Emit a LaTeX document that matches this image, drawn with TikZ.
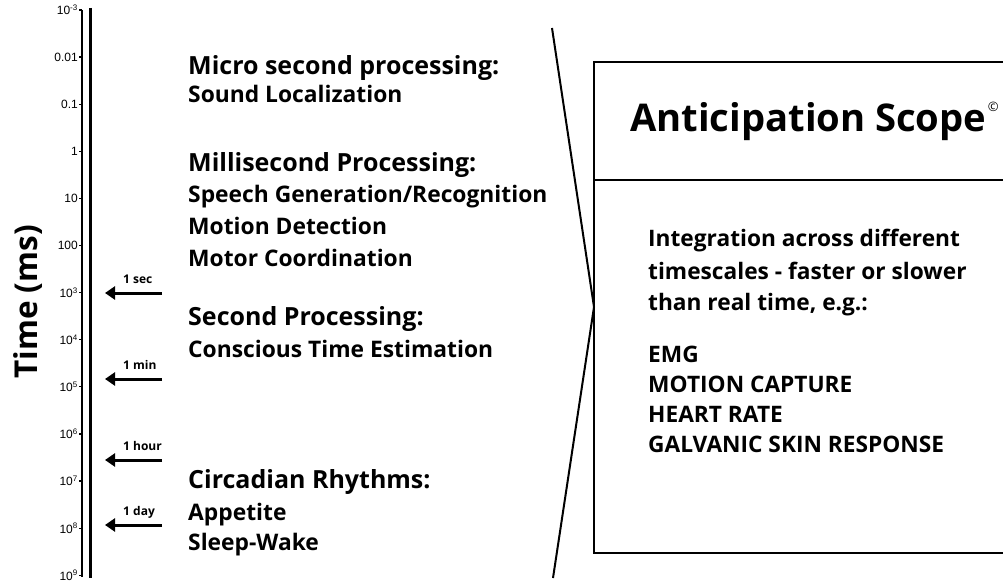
\documentclass[tikz,border=0pt]{standalone}
\usepackage{fontspec}
\setmainfont{Open Sans}
\newfontfamily\tickfont{Liberation Sans}
\usetikzlibrary{arrows.meta}

\tikzset{
  headtext/.style={anchor=base west, inner sep=0pt, font=\bfseries\fontsize{25}{30}\selectfont},
  itemtext/.style={anchor=base west, inner sep=0pt, font=\bfseries\fontsize{22.8}{27}\selectfont},
  scopetext/.style={anchor=base west, inner sep=0pt, font=\bfseries\fontsize{22.7}{27}\selectfont},
  ticklabel/.style={anchor=east, inner sep=0pt, font=\tickfont\fontsize{12}{14}\selectfont},
  unitlabel/.style={anchor=base west, inner sep=0pt, font=\bfseries\fontsize{12}{14}\selectfont},
  unitarrow/.style={line width=3pt, -{Triangle[length=10pt,width=13pt]}},
  boxline/.style={line width=2.4pt},
}

\begin{document}
\begin{tikzpicture}[x=1pt,y=-1pt]
				\useasboundingbox (0,0) rectangle (1003,585);
				% Time axis
				\coordinate (thinTop) at (82,10) ;
				\coordinate (thinBot) at (82,577) ;
				\coordinate (thickTop) at (90,8) ;
				\coordinate (thickBot) at (90,578) ;
				\draw[line width=1.5pt] (thinTop) -- (thinBot) ;
				\draw[line width=3pt] (thickTop) -- (thickBot) ;
				\foreach \lab [count=\i from 0] in {10\textsuperscript{-3},0.01,0.1,1,10,100,10\textsuperscript{3},10\textsuperscript{4},10\textsuperscript{5},10\textsuperscript{6},10\textsuperscript{7},10\textsuperscript{8},10\textsuperscript{9}}
				{
					\coordinate (tick\i) at (79,10+47.1*\i) ;
					\draw[line width=1.2pt] (tick\i) -- ++ (3,0) ;
					\node[ticklabel] (ticklab\i) at (78,10+47.1*\i) {\lab} ;
				}
				\node[rotate=90, inner sep=0pt, font=\bfseries\fontsize{31.5}{36}\selectfont] (axistitle) at (28,302) {Time (ms)} ;
				% Unit arrows
				\foreach \name/\lab/\yy in {sec/1 sec/293, min/1 min/379, hour/1 hour/460, day/1 day/525}
				{
					\coordinate (\name Tail) at (162,\yy) ;
					\coordinate (\name Tip) at (105,\yy) ;
					\draw[unitarrow] (\name Tail) -- (\name Tip) ;
					\node[unitlabel] (\name Label) at (123,\yy-10) {\lab} ;
				}
				% Processing scales
				\node[headtext] (micro) at (188,75) {Micro second processing:} ;
				\node[itemtext] (sound) at (188,103) {Sound Localization} ;
				\node[headtext] (milli) at (188,172) {Millisecond Processing:} ;
				\node[itemtext] (speech) at (188,203) {Speech Generation/Recognition} ;
				\node[itemtext] (motion) at (188,235) {Motion Detection} ;
				\node[itemtext] (motor) at (188,266) {Motor Coordination} ;
				\node[headtext] (second) at (188,325) {Second Processing:} ;
				\node[itemtext] (conscious) at (188,357) {Conscious Time Estimation} ;
				\node[headtext] (circadian) at (188,488) {Circadian Rhythms:} ;
				\node[itemtext] (appetite) at (188,520) {Appetite} ;
				\node[itemtext] (sleep) at (188,550) {Sleep-Wake} ;
				% Bracket
				\coordinate (brTop) at (552,28) ;
				\coordinate (brApex) at (594,307) ;
				\coordinate (brBot) at (553,578) ;
				\draw[line width=2pt] (brTop) -- (brApex) -- (brBot) ;
				% Anticipation box
				\coordinate (boxNE) at (1003,62) ;
				\coordinate (boxNW) at (594,62) ;
				\coordinate (boxSW) at (594,553) ;
				\coordinate (boxSE) at (1003,553) ;
				\coordinate (divW) at (594,180) ;
				\coordinate (divE) at (1003,180) ;
				\draw[boxline] (boxNE) -- (boxNW) -- (boxSW) -- (boxSE) ;
				\draw[boxline] (divW) -- (divE) ;
				\node[anchor=base west, inner sep=0pt, font=\bfseries\fontsize{38.2}{44}\selectfont] (title) at (630,132) {Anticipation Scope} ;
				\node[anchor=base west, inner sep=0pt, font=\fontsize{13}{13}\selectfont] (copymark) at ([xshift=1pt]title.base east) {\raisebox{20pt}{\textcopyright}} ;
				\node[scopetext] (integ) at (648,247) {Integration across different} ;
				\node[scopetext] (scales) at (648,279) {timescales - faster or slower} ;
				\node[scopetext] (real) at (648,310) {than real time, e.g.:} ;
				\node[scopetext] (emg) at (648,362) {EMG} ;
				\node[scopetext] (capture) at (648,392) {MOTION CAPTURE} ;
				\node[scopetext] (heart) at (648,422) {HEART RATE} ;
				\node[scopetext] (galvanic) at (648,452) {GALVANIC SKIN RESPONSE} ;
\end{tikzpicture}
\end{document}
